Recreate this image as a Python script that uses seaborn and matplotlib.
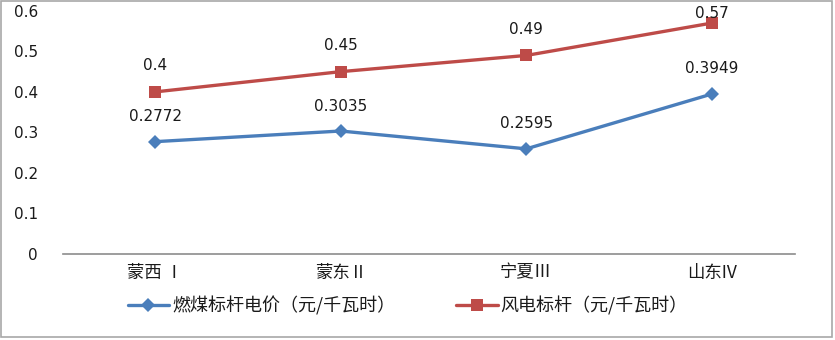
import matplotlib
matplotlib.use("Agg")
import matplotlib.pyplot as plt
import seaborn as sns
import pandas as pd
from matplotlib.patches import Rectangle

categories = ["蒙西 Ⅰ", "蒙东Ⅱ", "宁夏Ⅲ", "山东IV"]
coal_values = [0.2772, 0.3035, 0.2595, 0.3949]
wind_values = [0.40, 0.45, 0.49, 0.57]
coal_labels = ["0.2772", "0.3035", "0.2595", "0.3949"]
wind_labels = ["0.4", "0.45", "0.49", "0.57"]
coal_name = "燃煤标杆电价（元/千瓦时）"
wind_name = "风电标杆（元/千瓦时）"
yticks = [0, 0.1, 0.2, 0.3, 0.4, 0.5, 0.6]
ytick_labels = ["0", "0.1", "0.2", "0.3", "0.4", "0.5", "0.6"]

sns.set_theme(style="white")
plt.rcParams["font.family"] = ["DejaVu Sans", "Noto Sans CJK SC"]

df = pd.DataFrame({"cat": categories, "coal": coal_values, "wind": wind_values})

fig = plt.figure(figsize=(8.35, 3.4), dpi=100)
ax = fig.add_axes([0.0755, 0.253, 0.8765, 0.715])

blue = "#4A7EBB"
red = "#BE4B48"
sns.lineplot(data=df, x="cat", y="coal", ax=ax, color=blue, marker="D", markersize=7,
             markeredgewidth=0, linewidth=2.4, label=coal_name, sort=False)
sns.lineplot(data=df, x="cat", y="wind", ax=ax, color=red, marker="s", markersize=8,
             markeredgewidth=0, linewidth=2.4, label=wind_name, sort=False)

ax.set_xlim(-0.4955, 3.447)
ax.set_ylim(0, 0.6)
ax.set_yticks(yticks)
ax.set_yticklabels(ytick_labels)
ax.set_xlabel("")
ax.set_ylabel("")
for s in ["top", "right", "left"]:
    ax.spines[s].set_visible(False)
ax.spines["bottom"].set_color("#8c8c8c")
ax.spines["bottom"].set_linewidth(1.2)
ax.tick_params(axis="y", length=0, pad=18, labelsize=11, colors="#1a1a1a")
ax.tick_params(axis="x", length=0, pad=7, labelsize=12.5, colors="#1a1a1a")
for lab in ax.get_xticklabels():
    lab.set_family(["Noto Sans CJK SC", "DejaVu Sans"])

coal_offsets = [18, 18, 18, 18]
wind_offsets = [19, 19, 19, 7]
for i, (v, t) in enumerate(zip(coal_values, coal_labels)):
    ax.annotate(t, (i, v), xytext=(0, coal_offsets[i]), textcoords="offset points",
                ha="center", va="center", fontsize=11, color="#1a1a1a")
for i, (v, t) in enumerate(zip(wind_values, wind_labels)):
    ax.annotate(t, (i, v), xytext=(0, wind_offsets[i]), textcoords="offset points",
                ha="center", va="center", fontsize=11, color="#1a1a1a")

leg = ax.legend(loc="center left", bbox_to_anchor=(0.076, -0.215), ncol=2, frameon=False,
                prop={"family": ["Noto Sans CJK SC", "DejaVu Sans"], "size": 13},
                handlelength=2.3, handletextpad=0.15, columnspacing=3.4, borderpad=0)
for txt in leg.get_texts():
    txt.set_color("#1a1a1a")

fig.patches.append(Rectangle((0.001, 0.008), 0.996, 0.988, transform=fig.transFigure,
                             fill=False, edgecolor="#a8a8a8", linewidth=1.2))

fig.savefig("out.png", dpi=100)
